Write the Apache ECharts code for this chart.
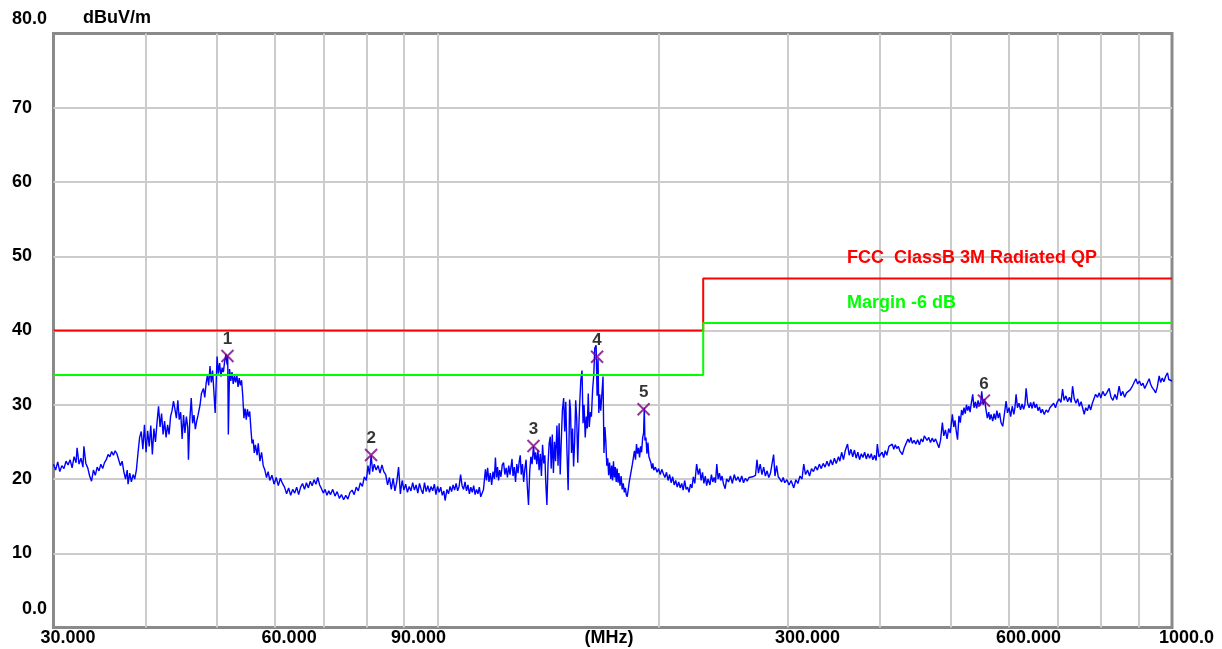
<!DOCTYPE html>
<html>
<head>
<meta charset="utf-8">
<title>Radiated emission</title>
<script src="https://cdn.jsdelivr.net/npm/echarts@6/dist/echarts.min.js"></script>
<style>
  html,body{margin:0;padding:0;background:#fff;}
  #chart{width:1222px;height:649px;}
</style>
</head>
<body>
<div id="chart"></div>
<script>
// 频率(MHz) / 场强(dBuV/m) 扫描曲线
const trace = [
  [30.0,22.0],[30.2,21.2],[30.4,22.3],[30.6,21.0],[30.8,21.8],[31.0,21.4],[31.2,22.4],[31.4,21.9],[31.6,22.6],[31.8,21.5],
  [32.0,23.0],[32.2,22.2],[32.3,24.2],[32.5,22.0],[32.7,22.8],[32.9,21.6],[33.0,24.4],[33.2,22.1],[33.4,21.5],[33.6,20.4],
  [33.8,19.7],[34.0,21.2],[34.2,20.5],[34.4,21.6],[34.6,21.1],[34.8,22.0],[35.0,21.4],[35.2,22.2],[35.4,22.6],[35.6,23.3],
  [35.8,23.0],[36.0,23.7],[36.2,23.2],[36.4,23.8],[36.6,23.4],[36.8,22.6],[37.0,21.8],[37.2,22.4],[37.4,21.0],[37.6,20.0],
  [37.8,21.2],[37.9,19.3],[38.1,20.8],[38.3,19.6],[38.5,20.6],[38.7,20.0],[38.9,21.2],[39.1,23.5],[39.3,25.6],[39.5,26.4],
  [39.7,24.0],[39.9,27.3],[40.1,23.6],[40.3,26.5],[40.5,24.4],[40.7,27.2],[40.9,23.3],[41.1,26.8],[41.3,25.0],[41.5,27.6],
  [41.7,29.8],[41.9,27.0],[42.1,28.8],[42.3,26.0],[42.5,27.8],[42.7,25.6],[42.9,27.3],[43.1,26.0],[43.3,28.4],[43.5,29.2],
  [43.7,30.5],[43.9,29.4],[44.1,28.2],[44.3,30.6],[44.5,28.0],[44.7,29.0],[44.9,25.4],[45.1,28.6],[45.3,26.2],[45.5,28.4],
  [45.7,27.0],[45.8,22.6],[46.0,28.0],[46.2,30.9],[46.4,27.5],[46.6,28.6],[46.8,26.7],[47.0,27.8],[47.2,28.6],[47.5,30.0],
  [47.7,31.5],[48.0,32.2],[48.2,31.0],[48.4,32.8],[48.6,34.0],[48.8,32.6],[49.0,35.2],[49.2,33.0],[49.4,34.6],[49.6,31.8],
  [49.8,28.9],[50.0,34.0],[50.1,36.5],[50.3,34.2],[50.5,35.6],[50.7,33.8],[50.9,35.0],[51.1,34.4],[51.3,35.8],[51.5,36.8],
  [51.7,35.4],[51.8,36.6],[51.9,26.0],[52.1,34.8],[52.3,33.2],[52.5,34.4],[52.7,32.8],[52.9,33.9],[53.1,33.0],[53.3,34.0],
  [53.5,32.4],[53.7,33.6],[53.9,32.6],[54.1,33.3],[54.3,31.2],[54.5,28.2],[54.7,29.5],[54.9,28.0],[55.1,29.4],[55.3,28.4],
  [55.5,29.1],[55.7,26.8],[55.9,24.8],[56.1,25.3],[56.3,23.5],[56.5,24.6],[56.8,23.2],[57.0,24.8],[57.3,22.4],[57.6,23.6],
  [57.9,21.8],[58.2,21.2],[58.5,20.2],[58.8,21.0],[59.1,19.8],[59.5,20.5],[59.9,19.3],[60.3,20.2],[60.7,19.1],[61.1,20.1],
  [61.5,19.4],[61.9,18.9],[62.3,18.0],[62.7,18.8],[63.1,17.8],[63.5,18.6],[63.9,18.1],[64.3,18.9],[64.7,17.9],[65.1,18.9],
  [65.5,19.4],[65.9,18.6],[66.3,19.5],[66.7,18.8],[67.1,19.7],[67.5,19.1],[67.9,19.9],[68.3,19.3],[68.7,20.2],[69.1,19.2],
  [69.5,18.7],[69.9,18.1],[70.3,18.6],[70.7,17.8],[71.1,18.4],[71.5,17.9],[72.0,18.6],[72.5,17.7],[73.0,18.3],[73.5,17.4],
  [74.0,17.9],[74.5,17.2],[75.0,17.8],[75.5,17.3],[76.0,18.2],[76.5,18.5],[77.0,17.9],[77.5,18.9],[78.0,18.4],[78.5,19.5],
  [79.0,19.0],[79.5,20.3],[80.0,19.8],[80.4,21.8],[80.8,20.6],[81.2,23.2],[81.6,21.0],[82.0,22.0],[82.5,21.2],[83.0,21.8],
  [83.5,20.8],[84.0,21.9],[84.5,21.0],[85.0,20.6],[85.5,19.2],[86.0,20.2],[86.5,18.6],[87.0,20.1],[87.5,18.4],[88.0,19.6],
  [88.5,21.6],[89.0,18.0],[89.5,19.8],[90.0,18.5],[90.5,19.3],[91.0,18.2],[91.5,19.0],[92.0,18.4],[92.5,19.5],[93.0,18.5],
  [93.5,19.2],[94.0,18.1],[94.5,19.4],[95.0,18.6],[95.5,18.0],[96.0,19.5],[96.5,18.3],[97.0,19.1],[97.5,18.2],[98.0,19.0],
  [98.5,18.4],[99.0,19.3],[99.5,17.9],[100.0,19.0],[100.5,18.2],[101.0,18.9],[101.5,17.8],[102.0,18.4],[102.4,17.1],[103.0,18.6],
  [103.5,18.0],[104.0,19.0],[104.5,18.3],[105.0,19.2],[105.5,18.5],[106.0,19.4],[106.5,18.4],[107.0,19.0],[107.5,20.6],[108.0,19.1],
  [108.5,18.6],[109.0,19.6],[109.5,18.4],[110.0,19.2],[110.5,18.0],[111.0,18.9],[111.5,18.2],[112.0,19.1],[112.5,17.9],[113.0,18.6],
  [113.5,18.0],[114.0,18.9],[114.5,17.6],[115.0,17.6],[115.5,18.6],[116.2,21.3],[116.6,19.8],[117.0,21.5],[117.5,19.6],[118.0,20.8],
  [118.5,19.2],[119.0,21.0],[119.5,20.0],[119.9,22.9],[120.3,20.2],[120.7,21.6],[121.1,19.8],[121.5,21.2],[122.0,20.3],[122.5,21.9],
  [123.0,22.2],[123.5,20.6],[124.0,21.5],[124.5,20.2],[125.0,21.8],[125.5,20.6],[126.3,22.7],[126.7,20.4],[127.2,21.6],[127.7,19.6],
  [128.2,22.0],[128.7,20.8],[129.2,22.4],[129.6,23.2],[130.0,20.6],[130.5,22.0],[131.0,19.6],[131.5,21.4],[132.0,22.6],[132.5,19.0],
  [133.0,16.5],[133.5,21.0],[134.0,23.0],[134.5,22.0],[135.1,24.4],[135.6,22.6],[136.0,23.6],[136.5,22.0],[137.0,23.9],[137.5,21.2],
  [138.0,23.4],[138.5,20.4],[139.0,24.6],[139.5,22.1],[140.0,23.2],[140.4,19.5],[140.9,16.5],[141.4,22.0],[141.9,24.8],[142.4,25.7],
  [142.8,21.4],[143.3,26.0],[143.8,20.8],[144.3,25.0],[144.8,22.4],[145.4,27.2],[145.9,21.8],[146.4,27.5],[146.9,20.6],[147.4,25.2],
  [147.9,29.2],[148.5,30.9],[149.0,26.4],[149.5,30.4],[150.0,24.2],[150.6,18.5],[151.0,24.6],[151.3,30.7],[151.7,29.4],[152.2,23.5],
  [152.7,26.8],[153.2,21.7],[153.7,25.0],[154.2,30.6],[154.7,28.2],[155.2,22.2],[155.6,26.0],[156.1,29.8],[156.7,33.3],[157.3,34.6],
  [157.8,27.5],[158.3,30.0],[158.9,25.6],[159.4,28.4],[159.9,26.8],[160.4,31.5],[160.9,27.0],[161.5,29.0],[162.0,28.4],[162.6,32.0],
  [163.2,34.0],[163.7,37.6],[164.4,38.0],[164.9,31.2],[165.4,36.2],[165.8,28.9],[166.3,31.4],[166.8,29.2],[167.3,31.0],[168.0,33.8],
  [168.5,23.5],[169.0,27.0],[169.5,25.0],[170.0,21.8],[170.5,22.8],[171.0,20.5],[171.5,22.2],[172.1,20.0],[172.6,21.8],[173.1,19.8],
  [173.6,22.4],[174.1,20.2],[174.6,21.6],[175.1,19.6],[175.6,21.4],[176.1,19.5],[176.6,20.8],[177.2,19.1],[177.8,20.4],[178.4,18.6],
  [179.0,19.4],[179.6,18.2],[180.2,18.8],[180.7,17.9],[181.2,17.6],[181.8,18.5],[182.4,19.6],[183.0,20.4],[183.6,21.2],[184.2,22.0],
  [184.8,21.8],[185.4,23.8],[186.0,22.6],[186.6,24.7],[187.2,23.4],[187.8,24.2],[188.4,22.9],[189.0,24.4],[189.6,23.6],[190.2,25.5],
  [190.8,26.2],[191.2,29.6],[191.6,25.2],[192.2,25.6],[192.8,23.4],[193.4,24.9],[194.0,23.0],[194.6,22.6],[195.2,22.2],[195.8,21.4],
  [196.4,22.1],[197.0,21.2],[198.0,21.6],[199.0,20.9],[200.0,21.4],[201.0,20.6],[202.0,21.3],[203.0,20.7],[204.0,20.2],[205.0,20.9],
  [206.0,19.8],[207.0,20.6],[208.0,19.5],[209.0,20.3],[210.0,19.2],[211.0,19.8],[212.0,18.9],[213.0,19.6],[214.0,18.8],[215.0,19.4],
  [216.0,18.5],[217.0,19.8],[218.0,18.6],[219.0,18.9],[220.0,18.2],[221.0,19.3],[222.0,18.8],[223.0,20.3],[224.0,19.4],[225.3,22.0],
  [226.5,20.6],[227.5,21.4],[228.5,19.8],[229.5,20.9],[230.5,19.4],[231.5,20.4],[232.5,19.1],[233.5,20.0],[234.9,19.2],[236.0,20.6],
  [237.0,19.6],[238.0,20.2],[239.0,19.5],[240.0,22.0],[241.0,20.0],[242.0,20.8],[243.0,19.8],[244.0,20.4],[245.0,19.4],[246.4,18.7],
  [247.5,20.0],[249.0,19.6],[250.5,20.4],[252.0,19.4],[253.5,20.6],[255.0,19.8],[256.5,20.3],[258.0,19.6],[259.5,20.4],[261.0,19.5],
  [262.5,20.1],[264.0,19.7],[265.5,20.2],[267.0,20.0],[268.5,20.3],[270.0,20.1],[271.0,20.5],[272.2,22.6],[273.5,20.8],[275.0,22.0],
  [276.5,20.6],[278.0,21.6],[279.5,20.4],[281.0,21.1],[282.5,20.2],[284.0,20.8],[285.5,20.6],[286.8,23.3],[288.0,20.4],[289.5,21.8],
  [291.0,20.3],[292.5,20.0],[294.0,19.6],[295.5,20.2],[297.0,19.5],[299.0,19.9],[301.0,19.2],[303.0,19.8],[305.5,18.8],[307.5,19.9],
  [309.5,19.4],[311.5,20.4],[313.5,20.0],[315.2,22.0],[317.0,20.6],[319.0,21.2],[321.0,20.4],[323.0,21.4],[325.0,21.0],[327.0,21.7],
  [329.0,21.2],[331.0,22.0],[333.0,21.4],[335.0,22.1],[337.0,21.6],[339.0,22.4],[341.0,21.7],[343.0,22.6],[345.0,21.9],[347.0,22.8],
  [349.0,22.1],[350.4,22.6],[351.5,23.0],[353.0,22.4],[355.0,23.6],[357.0,22.6],[359.0,23.8],[361.6,24.7],[363.5,23.2],[365.5,24.0],
  [367.5,23.0],[369.5,23.9],[371.5,22.8],[373.5,23.6],[375.5,22.6],[377.5,23.4],[379.5,22.9],[381.5,23.6],[383.5,22.7],[385.5,23.4],
  [387.5,22.8],[389.5,23.4],[391.5,22.6],[393.5,23.2],[395.5,22.5],[397.0,24.7],[399.0,23.0],[401.0,22.8],[403.0,23.6],[405.0,22.9],
  [407.0,23.8],[409.0,23.2],[411.7,24.4],[414.0,24.3],[416.0,24.7],[418.0,24.0],[420.0,24.6],[422.0,24.1],[424.0,24.4],[426.0,23.8],
  [429.4,23.3],[432.0,24.2],[434.5,24.8],[437.0,25.4],[439.0,24.9],[441.0,25.6],[443.0,24.8],[445.5,25.2],[448.0,24.7],[450.5,25.3],
  [453.0,24.6],[455.5,25.4],[458.0,25.0],[460.0,25.8],[462.0,26.0],[464.0,25.2],[466.5,25.6],[469.0,24.9],[471.5,25.5],[474.0,25.0],
  [476.5,25.4],[479.0,24.8],[481.5,24.2],[484.0,25.2],[486.8,27.6],[489.0,25.8],[491.5,26.6],[494.0,25.4],[496.5,26.8],[499.0,26.2],
  [502.3,28.7],[504.5,27.0],[506.5,27.9],[508.5,26.4],[510.5,25.3],[512.8,28.5],[515.0,27.6],[517.0,29.3],[519.0,28.6],[521.0,29.6],
  [523.0,28.8],[525.0,30.0],[527.0,29.2],[529.0,29.8],[531.0,29.0],[533.0,30.2],[535.4,31.4],[537.5,29.6],[540.0,30.4],[542.0,29.5],
  [544.5,30.6],[547.0,29.8],[549.0,30.3],[550.7,31.8],[553.0,30.0],[555.5,30.8],[558.0,29.4],[560.5,28.2],[563.0,29.0],[565.0,28.0],
  [567.1,28.7],[570.0,27.8],[572.5,28.8],[575.0,28.0],[577.5,29.2],[580.0,28.2],[582.5,28.9],[585.0,27.6],[588.2,27.1],[591.0,28.6],
  [594.4,30.5],[597.0,28.9],[600.0,29.6],[603.0,28.4],[606.0,29.8],[609.0,28.7],[611.0,29.5],[613.4,31.4],[616.0,29.6],[619.0,30.2],
  [622.0,29.3],[625.0,30.1],[628.0,29.4],[630.5,30.0],[633.0,32.2],[636.0,30.2],[639.0,29.6],[642.0,30.3],[645.0,29.5],[648.0,30.4],
  [651.0,29.6],[654.0,30.1],[657.0,29.2],[660.0,29.7],[663.0,28.9],[666.0,29.4],[670.0,28.7],[674.0,29.3],[678.0,29.0],[682.0,29.6],
  [686.0,29.8],[690.0,30.2],[694.0,29.6],[698.0,30.4],[702.0,30.8],[706.0,30.3],[709.6,32.1],[713.0,30.6],[717.0,31.2],[721.0,30.4],
  [725.0,31.0],[729.0,30.3],[732.2,32.5],[736.0,30.8],[740.0,30.2],[744.0,30.8],[748.0,29.8],[752.0,30.4],[756.0,29.5],[759.4,28.7],
  [763.0,29.6],[767.0,29.2],[771.0,30.0],[775.0,29.3],[779.0,30.2],[783.0,30.8],[787.0,31.4],[791.8,31.0],[796.0,31.6],[800.0,30.9],
  [805.0,31.8],[810.0,31.2],[815.0,31.6],[821.1,32.2],[826.0,31.0],[831.0,30.6],[836.0,31.4],[841.0,30.7],[847.3,32.5],[852.0,31.2],
  [857.0,31.8],[862.0,31.0],[867.0,31.6],[872.0,31.4],[877.0,32.0],[882.0,32.4],[887.0,32.6],[892.9,33.5],[898.0,32.8],[903.0,33.2],
  [908.0,32.6],[913.0,32.9],[918.0,32.2],[923.0,32.7],[930.9,33.5],[935.0,32.8],[940.0,32.3],[945.0,32.0],[950.0,31.6],[955.0,32.4],
  [960.6,33.9],[965.0,33.0],[970.0,33.6],[975.0,33.1],[980.0,33.8],[986.1,34.3],[990.0,33.4],[995.0,33.6],[1000.0,33.2]
]

// 限值线与 -6dB 裕量线
const limitFreq = [30, 230, 230, 1000]
const limitLevel = [40, 40, 47, 47]
const marginLevel = [34, 34, 41, 41]

// 标记点
const markerFreq = [51.76, 81.2, 135.1, 164.9, 190.8, 554.5]
const markerLevel = [36.57, 23.24, 24.45, 36.47, 29.39, 30.55]
const markerName = ['1', '2', '3', '4', '5', '6']

// 坐标轴刻度
const gridFreq = [40, 50, 60, 70, 80, 90, 100, 200, 300, 400, 500, 600, 700, 800, 900]
const xLabelFreq = [30, 60, 90, 300, 600, 1000]
const xLabelText = ['30.000', '60.000', '90.000', '300.000', '600.000', '1000.0']

const FONT = '"Liberation Sans", Arial, sans-serif'
const boldFont = 'bold 18px ' + FONT

const chart = echarts.init(document.getElementById('chart'))

chart.setOption({
  animation: false,
  backgroundColor: '#fff',
  grid: {
    left: 53.5, right: 50, top: 33.5, bottom: 21.5,
    show: true,
    borderColor: '#8a8a8a',
    borderWidth: 3,
    backgroundColor: 'transparent'
  },
  xAxis: {
    type: 'log',
    logBase: 10,
    min: 30,
    max: 1000,
    axisLine: { show: false },
    axisTick: { show: false },
    axisLabel: { show: false },
    splitLine: { show: false }
  },
  yAxis: {
    type: 'value',
    min: 0,
    max: 80,
    interval: 10,
    axisLine: { show: false },
    axisTick: { show: false },
    axisLabel: {
      align: 'left',
      margin: 41.5,
      color: '#000',
      fontFamily: FONT,
      fontWeight: 'bold',
      fontSize: 18,
      // 0 和 80 单独画在偏移的位置
      formatter: v => (v === 0 || v === 80) ? '' : String(v)
    },
    splitLine: {
      show: true,
      showMinLine: false,
      showMaxLine: false,
      lineStyle: { color: '#cccccc', width: 2 }
    }
  },
  series: [
    {
      // 竖向网格线
      type: 'line',
      data: [],
      z: 1,
      silent: true,
      markLine: {
        silent: true,
        z: 1,
        symbol: ['none', 'none'],
        label: { show: false },
        lineStyle: { color: '#cccccc', width: 2, type: 'solid' },
        emphasis: { disabled: true },
        data: gridFreq.map(f => ({ xAxis: f }))
      }
    },
    {
      type: 'line',
      data: trace,
      z: 3,
      showSymbol: false,
      lineStyle: { color: '#0000ff', width: 1.4 }
    },
    {
      type: 'line',
      data: limitFreq.map((f, i) => [f, limitLevel[i]]),
      z: 10,
      showSymbol: false,
      lineStyle: { color: '#ff0000', width: 2 }
    },
    {
      type: 'line',
      data: limitFreq.map((f, i) => [f, marginLevel[i]]),
      z: 10,
      showSymbol: false,
      lineStyle: { color: '#00ff00', width: 2 }
    },
    {
      type: 'scatter',
      data: markerFreq.map((f, i) => [f, markerLevel[i]]),
      z: 12,
      symbol: 'path://M0,0L10,10M10,0L0,10',
      symbolSize: 12,
      itemStyle: { color: 'rgba(0,0,0,0)', borderColor: '#800080', borderWidth: 2 },
      label: {
        show: true,
        position: 'top',
        distance: 1,
        color: '#000',
        fontFamily: FONT,
        fontSize: 17,
        fontWeight: 'bold',
        formatter: p => markerName[p.dataIndex]
      }
    }
  ]
})

// 文字：单位、刻度、限值名称
const txt = (x, y, text, fill, align) => ({
  type: 'text', x: x, y: y, z: 100,
  style: { text: text, fill: fill, font: boldFont, align: align, verticalAlign: 'middle' }
})
let texts = [
  txt(83, 18, 'dBuV/m', '#000', 'left'),
  txt(12, 19, '80.0', '#000', 'left'),
  txt(22, 609, '0.0', '#000', 'left'),
  txt(609, 638, '(MHz)', '#000', 'center'),
  txt(847, 258, 'FCC  ClassB 3M Radiated QP', '#ff0000', 'left'),
  txt(847, 303, 'Margin -6 dB', '#00ff00', 'left')
]
xLabelFreq.forEach((f, i) => {
  const px = chart.convertToPixel({ xAxisIndex: 0 }, f)
  texts.push(txt(px - 13, 638, xLabelText[i], '#000', 'left'))
})
chart.setOption({ graphic: texts })
</script>
</body>
</html>
